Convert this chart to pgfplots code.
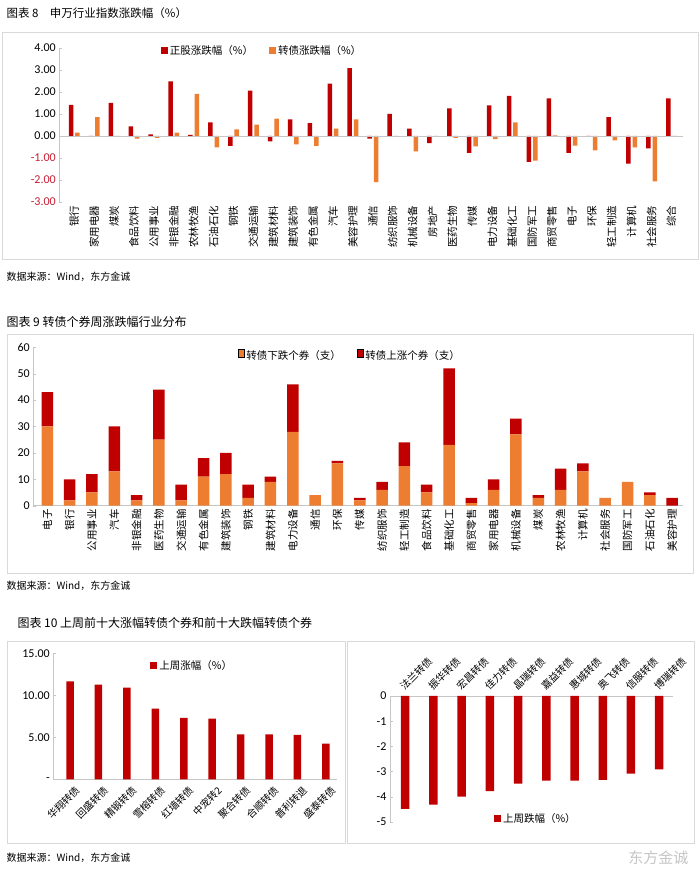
\documentclass[border=0pt]{standalone}
\usepackage{fontspec}
\setmainfont{Noto Sans CJK SC}
\newfontfamily\num{Carlito}
\usepackage{pgfplots}
\usepackage{pgfplotstable}
\pgfplotsset{compat=1.18}
\definecolor{cred}{RGB}{192,0,0}
\definecolor{corg}{RGB}{237,125,49}
\definecolor{negred}{RGB}{200,30,50}
\definecolor{framec}{RGB}{217,217,217}

\pgfplotstableread{
x r o
0 1.42 0.15
1 0.00 0.86
2 1.50 0.00
3 0.44 -0.12
4 0.07 -0.08
5 2.48 0.15
6 0.05 1.92
7 0.62 -0.52
8 -0.45 0.30
9 2.06 0.52
10 -0.24 0.79
11 0.76 -0.38
12 0.58 -0.45
13 2.38 0.33
14 3.09 0.76
15 -0.12 -2.10
16 1.00 -0.04
17 0.33 -0.70
18 -0.32 0.00
19 1.26 -0.08
20 -0.77 -0.47
21 1.39 -0.14
22 1.82 0.62
23 -1.18 -1.12
24 1.71 0.03
25 -0.77 -0.44
26 0.00 -0.65
27 0.86 -0.20
28 -1.26 -0.52
29 -0.56 -2.06
30 1.71 0.00
}\tabA

\pgfplotstableread{
x d u
0 30 13
1 2 8
2 5 7
3 13 17
4 2 2
5 25 19
6 2 6
7 11 7
8 12 8
9 3 5
10 9 2
11 28 18
12 4 0
13 16 1
14 2 1
15 6 3
16 15 9
17 5 3
18 23 29
19 1 2
20 6 4
21 27 6
22 3 1
23 6 8
24 13 3
25 3 0
26 9 0
27 4 1
28 0 3
}\tabB

\pgfplotstableread{
x v
0 11.67
1 11.27
2 10.91
3 8.41
4 7.30
5 7.22
6 5.36
7 5.34
8 5.28
9 4.25
}\tabC

\pgfplotstableread{
x v
0 -4.48
1 -4.31
2 -3.99
3 -3.77
4 -3.48
5 -3.36
6 -3.36
7 -3.33
8 -3.08
9 -2.91
}\tabD

\pgfplotsset{
  myaxis/.style={
    scale only axis,
    anchor=south west,
    axis line style={draw=gray!45},
    tick style={draw=gray!45},
    major tick length=3pt,
    xtick style={draw=none},
    ytick pos=left,
    /pgf/number format/assume math mode=true,
    yticklabel style={font=\num\fontsize{12}{14}\selectfont, text=black},
    xticklabel style={font=\fontsize{10.5}{12}\selectfont},
    legend style={draw=none, fill=none, font=\fontsize{10.5}{12}\selectfont,
      legend columns=-1, /tikz/every even column/.append style={column sep=14pt}},
    legend image code/.code={\fill[##1] (0pt,-3.5pt) rectangle (7pt,3.5pt);},
  }
}

\begin{document}
\begin{tikzpicture}
\useasboundingbox (0,0) rectangle (700pt,877pt);
\fill[white] (0,0) rectangle (700pt,877pt);

% ---------- Panel 1 ----------
\node[anchor=west, font=\fontsize{11.5}{13}\selectfont] at (3pt,864pt) {图表 8\quad 申万行业指数涨跌幅（\%）};
\draw[framec] (2pt,618pt) rectangle (698pt,845pt);
\begin{axis}[myaxis, at={(59.3pt,675pt)}, width=623.7pt, height=154pt,
  xmin=-0.75, xmax=30.58, ymin=-3, ymax=4,
  axis lines*=left, x axis line style={draw=none},
  ytick={-3,-2,-1,0,1,2,3,4},
  yticklabels={\textcolor{negred}{-3.00},\textcolor{negred}{-2.00},\textcolor{negred}{-1.00},0.00,1.00,2.00,3.00,4.00},
  xtick={0,...,30},
  xticklabels={银行,家用电器,煤炭,食品饮料,公用事业,非银金融,农林牧渔,石油石化,钢铁,交通运输,建筑材料,建筑装饰,有色金属,汽车,美容护理,通信,纺织服饰,机械设备,房地产,医药生物,传媒,电力设备,基础化工,国防军工,商贸零售,电子,环保,轻工制造,计算机,社会服务,综合},
  xticklabel style={rotate=90, anchor=east},
  legend style={at={(axis description cs:0.325,1.045)}, anchor=north},
]
\addplot[ybar, bar width=4.5pt, bar shift=-3.2pt, fill=cred, draw=none] table[x=x,y=r]{\tabA};
\addplot[ybar, bar width=4.5pt, bar shift=3.2pt, fill=corg, draw=none] table[x=x,y=o]{\tabA};
\legend{正股涨跌幅（\%）,转债涨跌幅（\%）}
\draw[gray!45] (axis cs:-0.75,0) -- (axis cs:30.58,0);
\end{axis}
\node[anchor=west, font=\fontsize{10}{12}\selectfont] at (3pt,600pt) {数据来源：Wind，东方金诚};

% ---------- Panel 2 ----------
\node[anchor=west, font=\fontsize{12}{14}\selectfont] at (3pt,555pt) {图表 9 转债个券周涨跌幅行业分布};
\draw[framec] (7pt,304pt) rectangle (693pt,543pt);
\begin{axis}[myaxis, at={(33.3pt,371.3pt)}, width=650pt, height=158.4pt,
  xmin=-0.63, xmax=28.5, ymin=0, ymax=60,
  axis lines*=left,
  ytick={0,10,...,60},
  ybar stacked, bar width=11.5pt,
  xtick={0,...,28},
  xticklabels={电子,银行,公用事业,汽车,非银金融,医药生物,交通运输,有色金属,建筑装饰,钢铁,建筑材料,电力设备,通信,环保,传媒,纺织服饰,轻工制造,食品饮料,基础化工,商贸零售,家用电器,机械设备,煤炭,农林牧渔,计算机,社会服务,国防军工,石油石化,美容护理},
  xticklabel style={rotate=90, anchor=east},
  legend style={at={(axis description cs:0.487,1.008)}, anchor=north},
]
\addplot[fill=corg, draw=none] table[x=x,y=d]{\tabB};
\addplot[fill=cred, draw=none] table[x=x,y=u]{\tabB};
\legend{转债下跌个券（支）,转债上涨个券（支）}
\end{axis}
\node[anchor=west, font=\fontsize{10}{12}\selectfont] at (3pt,291pt) {数据来源：Wind，东方金诚};

% ---------- Panel 3 ----------
\node[anchor=west, font=\fontsize{12}{14}\selectfont] at (14pt,254pt) {图表 10 上周前十大涨幅转债个券和前十大跌幅转债个券};
\draw[framec] (7pt,34pt) rectangle (345pt,236pt);
\draw[framec] (347pt,34pt) rectangle (694pt,236pt);
\begin{axis}[myaxis, at={(53.3pt,97.7pt)}, width=283.4pt, height=126pt,
  xmin=-0.59, xmax=9.38, ymin=0, ymax=15,
  axis lines*=left,
  ytick={0,5,10,15}, yticklabels={-\hspace{8pt},5.00,10.00,15.00},
  xtick={0,...,9},
  xticklabels={华翔转债,回盛转债,精锻转债,雪榕转债,红墙转债,中宠转2,聚合转债,合顺转债,普利转退,盛泰转债},
  xticklabel style={rotate=45, anchor=north east, font=\fontsize{10}{12}\selectfont, yshift=-4pt, xshift=2pt},
  legend style={at={(axis description cs:0.49,0.98)}, anchor=north},
]
\addplot[ybar, bar width=7.5pt, fill=cred, draw=none] table[x=x,y=v]{\tabC};
\legend{上周涨幅（\%）}
\end{axis}
\begin{axis}[myaxis, at={(390pt,55pt)}, width=283.3pt, height=126pt,
  xmin=-0.54, xmax=9.5, ymin=-5, ymax=0,
  axis y line*=left, axis x line*=top,
  ytick={-5,-4,-3,-2,-1,0},
  xtick={0,...,9},
  xticklabels={法兰转债,振华转债,宏昌转债,佳力转债,晶瑞转债,嘉益转债,惠城转债,奥飞转债,信服转债,博瑞转债},
  xticklabel style={rotate=45, anchor=south west, font=\fontsize{10}{12}\selectfont},
  legend style={at={(axis description cs:0.515,0.024)}, anchor=center},
]
\addplot[ybar, bar width=8.5pt, fill=cred, draw=none] table[x=x,y=v]{\tabD};
\legend{上周跌幅（\%）}
\end{axis}
\node[anchor=west, font=\fontsize{10}{12}\selectfont] at (3pt,19pt) {数据来源：Wind，东方金诚};
\node[anchor=east, text=gray!45, font=\fontsize{15}{17}\selectfont] at (692pt,19pt) {东方金诚};
\end{tikzpicture}
\end{document}
